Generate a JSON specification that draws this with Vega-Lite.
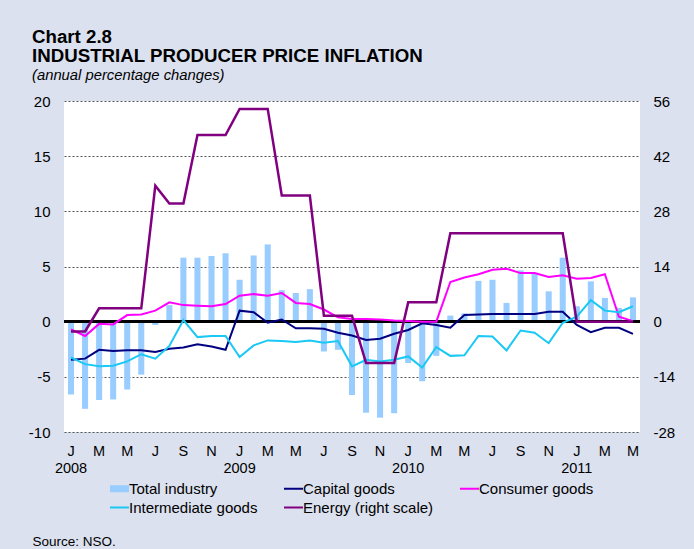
{
  "$schema": "https://vega.github.io/schema/vega-lite/v6.json",
  "width": 576,
  "height": 331,
  "autosize": "none",
  "padding": {"left": 64, "top": 101, "right": 54, "bottom": 117},
  "background": "#DBE1EF",
  "config": {"font": "Liberation Sans", "view": {"fill": "white", "stroke": null}},
  "title": {
    "text": ["Chart 2.8", "INDUSTRIAL PRODUCER PRICE INFLATION"],
    "subtitle": "(annual percentage changes)",
    "anchor": "start", "frame": "group", "dx": -32,
    "fontSize": 18.7, "fontWeight": "bold", "lineHeight": 19, "color": "black",
    "subtitleFontSize": 14.8, "subtitleFontStyle": "italic", "subtitleColor": "black", "subtitlePadding": 3,
    "offset": 11
  },
  "data": {"values": [
    {"m": "2008-01", "Total industry": -6.6, "Capital goods": -3.45, "Consumer goods": -0.7, "Intermediate goods": -3.25, "Energy (right scale)": -2.5},
    {"m": "2008-02", "Total industry": -7.9, "Capital goods": -3.35, "Consumer goods": -1.3, "Intermediate goods": -3.85, "Energy (right scale)": -2.5},
    {"m": "2008-03", "Total industry": -7.1, "Capital goods": -2.55, "Consumer goods": -0.2, "Intermediate goods": -4.05, "Energy (right scale)": 3.4},
    {"m": "2008-04", "Total industry": -7.05, "Capital goods": -2.65, "Consumer goods": -0.25, "Intermediate goods": -4.0, "Energy (right scale)": 3.4},
    {"m": "2008-05", "Total industry": -6.15, "Capital goods": -2.6, "Consumer goods": 0.6, "Intermediate goods": -3.6, "Energy (right scale)": 3.4},
    {"m": "2008-06", "Total industry": -4.8, "Capital goods": -2.6, "Consumer goods": 0.65, "Intermediate goods": -2.95, "Energy (right scale)": 3.4},
    {"m": "2008-07", "Total industry": -0.3, "Capital goods": -2.75, "Consumer goods": 1.0, "Intermediate goods": -3.35, "Energy (right scale)": 34.5},
    {"m": "2008-08", "Total industry": 1.5, "Capital goods": -2.45, "Consumer goods": 1.75, "Intermediate goods": -2.2, "Energy (right scale)": 30.0},
    {"m": "2008-09", "Total industry": 5.8, "Capital goods": -2.35, "Consumer goods": 1.5, "Intermediate goods": 0.15, "Energy (right scale)": 30.0},
    {"m": "2008-10", "Total industry": 5.8, "Capital goods": -2.05, "Consumer goods": 1.45, "Intermediate goods": -1.4, "Energy (right scale)": 47.35},
    {"m": "2008-11", "Total industry": 5.95, "Capital goods": -2.25, "Consumer goods": 1.4, "Intermediate goods": -1.3, "Energy (right scale)": 47.35},
    {"m": "2008-12", "Total industry": 6.2, "Capital goods": -2.55, "Consumer goods": 1.6, "Intermediate goods": -1.3, "Energy (right scale)": 47.35},
    {"m": "2009-01", "Total industry": 3.8, "Capital goods": 1.0, "Consumer goods": 2.35, "Intermediate goods": -3.2, "Energy (right scale)": 54.0},
    {"m": "2009-02", "Total industry": 6.0, "Capital goods": 0.85, "Consumer goods": 2.5, "Intermediate goods": -2.15, "Energy (right scale)": 54.0},
    {"m": "2009-03", "Total industry": 7.0, "Capital goods": -0.1, "Consumer goods": 2.35, "Intermediate goods": -1.7, "Energy (right scale)": 54.0},
    {"m": "2009-04", "Total industry": 2.85, "Capital goods": 0.2, "Consumer goods": 2.6, "Intermediate goods": -1.75, "Energy (right scale)": 32.0},
    {"m": "2009-05", "Total industry": 2.6, "Capital goods": -0.6, "Consumer goods": 1.7, "Intermediate goods": -1.85, "Energy (right scale)": 32.0},
    {"m": "2009-06", "Total industry": 2.95, "Capital goods": -0.6, "Consumer goods": 1.6, "Intermediate goods": -1.7, "Energy (right scale)": 32.0},
    {"m": "2009-07", "Total industry": -2.7, "Capital goods": -0.65, "Consumer goods": 1.1, "Intermediate goods": -1.9, "Energy (right scale)": 1.5},
    {"m": "2009-08", "Total industry": -2.55, "Capital goods": -1.0, "Consumer goods": 0.4, "Intermediate goods": -1.75, "Energy (right scale)": 1.5},
    {"m": "2009-09", "Total industry": -6.65, "Capital goods": -1.25, "Consumer goods": 0.25, "Intermediate goods": -4.05, "Energy (right scale)": 1.5},
    {"m": "2009-10", "Total industry": -8.25, "Capital goods": -1.65, "Consumer goods": 0.25, "Intermediate goods": -3.45, "Energy (right scale)": -10.5},
    {"m": "2009-11", "Total industry": -8.7, "Capital goods": -1.55, "Consumer goods": 0.2, "Intermediate goods": -3.6, "Energy (right scale)": -10.5},
    {"m": "2009-12", "Total industry": -8.3, "Capital goods": -1.1, "Consumer goods": 0.1, "Intermediate goods": -3.45, "Energy (right scale)": -10.5},
    {"m": "2010-01", "Total industry": -3.75, "Capital goods": -0.75, "Consumer goods": 0.05, "Intermediate goods": -3.15, "Energy (right scale)": 4.9},
    {"m": "2010-02", "Total industry": -5.4, "Capital goods": -0.15, "Consumer goods": 0.0, "Intermediate goods": -4.15, "Energy (right scale)": 4.9},
    {"m": "2010-03", "Total industry": -3.1, "Capital goods": -0.3, "Consumer goods": 0.0, "Intermediate goods": -2.3, "Energy (right scale)": 4.9},
    {"m": "2010-04", "Total industry": 0.55, "Capital goods": -0.55, "Consumer goods": 3.6, "Intermediate goods": -3.1, "Energy (right scale)": 22.45},
    {"m": "2010-05", "Total industry": 0.75, "Capital goods": 0.6, "Consumer goods": 4.0, "Intermediate goods": -3.05, "Energy (right scale)": 22.45},
    {"m": "2010-06", "Total industry": 3.7, "Capital goods": 0.65, "Consumer goods": 4.3, "Intermediate goods": -1.3, "Energy (right scale)": 22.45},
    {"m": "2010-07", "Total industry": 3.8, "Capital goods": 0.7, "Consumer goods": 4.7, "Intermediate goods": -1.35, "Energy (right scale)": 22.45},
    {"m": "2010-08", "Total industry": 1.7, "Capital goods": 0.7, "Consumer goods": 4.8, "Intermediate goods": -2.6, "Energy (right scale)": 22.45},
    {"m": "2010-09", "Total industry": 4.65, "Capital goods": 0.7, "Consumer goods": 4.4, "Intermediate goods": -0.8, "Energy (right scale)": 22.45},
    {"m": "2010-10", "Total industry": 4.4, "Capital goods": 0.7, "Consumer goods": 4.4, "Intermediate goods": -1.0, "Energy (right scale)": 22.45},
    {"m": "2010-11", "Total industry": 2.75, "Capital goods": 0.9, "Consumer goods": 4.05, "Intermediate goods": -1.95, "Energy (right scale)": 22.45},
    {"m": "2010-12", "Total industry": 5.8, "Capital goods": 0.9, "Consumer goods": 4.2, "Intermediate goods": -0.1, "Energy (right scale)": 22.45},
    {"m": "2011-01", "Total industry": 1.4, "Capital goods": -0.3, "Consumer goods": 3.9, "Intermediate goods": 0.45, "Energy (right scale)": 0},
    {"m": "2011-02", "Total industry": 3.65, "Capital goods": -0.95, "Consumer goods": 3.95, "Intermediate goods": 1.95, "Energy (right scale)": 0},
    {"m": "2011-03", "Total industry": 2.15, "Capital goods": -0.55, "Consumer goods": 4.3, "Intermediate goods": 1.0, "Energy (right scale)": 0},
    {"m": "2011-04", "Total industry": 1.25, "Capital goods": -0.55, "Consumer goods": 0.45, "Intermediate goods": 0.85, "Energy (right scale)": 0},
    {"m": "2011-05", "Total industry": 2.2, "Capital goods": -1.1, "Consumer goods": 0.05, "Intermediate goods": 1.4, "Energy (right scale)": 0}
  ]},
  "layer": [
    {
      "layer": [
        {
          "transform": [{"fold": ["Total industry"], "as": ["series", "value"]}],
          "mark": {"type": "bar"},
          "encoding": {
            "x": {
              "field": "m", "type": "ordinal",
              "scale": {"paddingInner": 0.57, "paddingOuter": 0.285},
              "axis": {
                "title": "Source: NSO.", "titleX": -32, "titleY": 113, "titleAlign": "left", "titleBaseline": "alphabetic",
                "titleFontSize": 13.5, "titleFontWeight": "normal", "titleColor": "black",
                "labelAngle": 0, "labelOverlap": false, "ticks": false, "domain": false, "grid": false,
                "labelPadding": 12, "labelFontSize": 14.5, "labelLineHeight": 17, "labelColor": "black",
                "labelExpr": "(toNumber(substring(datum.value,5,7)) % 2 == 0) ? '' : (substring(datum.value,5,7) == '01' ? ['J', substring(datum.value,0,4)] : substring('JFMAMJJASOND', toNumber(substring(datum.value,5,7))-1, toNumber(substring(datum.value,5,7))))"
              }
            },
            "y": {
              "field": "value", "type": "quantitative",
              "scale": {"domain": [-10, 20], "nice": false},
              "axis": {
                "title": null, "values": [-10, -5, 0, 5, 10, 15, 20], "grid": true, "gridDash": [2, 2],
                "gridColor": "#555555", "gridWidth": 1, "ticks": false, "domain": false,
                "labelPadding": 14, "labelFontSize": 15, "labelColor": "black",
                "labelExpr": "datum.value + ''"
              }
            },
            "color": {
              "field": "series", "type": "nominal",
              "scale": {
                "domain": ["Total industry", "Capital goods", "Consumer goods", "Intermediate goods", "Energy (right scale)"],
                "range": ["#99CCFF", "#000080", "#FF00FF", "#19C8F5", "#800080"]
              },
              "legend": {
                "orient": "none", "direction": "horizontal", "legendX": 48, "legendY": 380, "columns": 3, "title": null,
                "labelFontSize": 15, "labelColor": "black", "symbolSize": 361, "columnPadding": 22,
                "rowPadding": 3, "labelOffset": 2,
                "encode": {
                  "symbols": {
                    "update": {
                      "shape": {"signal": "datum.value === 'Total industry' ? 'M-1,-0.37H1V0.37H-1Z' : 'stroke'"},
                      "fill": {"signal": "datum.value === 'Total industry' ? scale('color', datum.value) : 'transparent'"},
                      "stroke": {"signal": "scale('color', datum.value)"},
                      "strokeWidth": {"signal": "datum.value === 'Total industry' ? 0 : 2"},
                      "opacity": {"value": 1}
                    }
                  }
                }
              }
            }
          }
        },
        {
          "mark": {"type": "rule", "color": "black", "strokeWidth": 2},
          "encoding": {"y": {"datum": 0}}
        },
        {
          "transform": [{"fold": ["Capital goods", "Consumer goods", "Intermediate goods"], "as": ["series", "value"]}],
          "mark": {"type": "line", "strokeWidth": 2},
          "encoding": {
            "x": {"field": "m", "type": "ordinal", "bandPosition": 0.5},
            "y": {"field": "value", "type": "quantitative"},
            "color": {"field": "series", "type": "nominal"}
          }
        }
      ]
    },
    {
      "transform": [{"fold": ["Energy (right scale)"], "as": ["series", "value"]}],
      "mark": {"type": "line", "strokeWidth": 2.5},
      "encoding": {
        "x": {"field": "m", "type": "ordinal", "bandPosition": 0.5},
        "y": {
          "field": "value", "type": "quantitative",
          "scale": {"domain": [-28, 56], "nice": false, "zero": false},
          "axis": {
            "orient": "right", "title": null, "values": [-28, -14, 0, 14, 28, 42, 56], "grid": false,
            "ticks": false, "domain": false, "labelPadding": 13, "labelFontSize": 15, "labelColor": "black",
            "labelExpr": "datum.value + ''"
          }
        },
        "color": {"field": "series", "type": "nominal"}
      }
    }
  ],
  "resolve": {"scale": {"y": "independent"}}
}
